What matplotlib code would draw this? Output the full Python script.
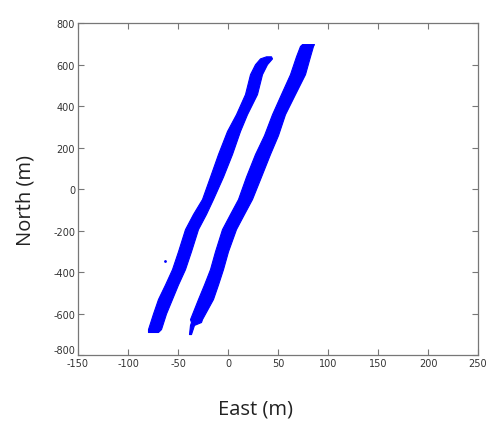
import numpy as np
import matplotlib
matplotlib.use("Agg")
import matplotlib.pyplot as plt

plt.rcParams['axes.unicode_minus'] = False

# left track: north (m), east edges (m)
track1_north = [-689, -675, -600, -530, -460, -386, -300, -193, -120, -48,
                60, 169, 280, 361, 458, 554, 602, 630, 640]
track1_west = [-80, -80, -75, -70, -63, -56, -50, -43, -35, -26,
               -18, -10, -1, 8, 17, 22, 27, 32, 38]
track1_east = [-70, -67, -62, -56, -50, -43, -37, -30, -22, -15,
               -5, 4, 12, 19, 29, 34, 39, 44, 43]

# right track
track2_north = [-699, -655, -641, -627, -530, -460, -386, -300, -193, -120,
                -48, 60, 169, 260, 361, 458, 554, 640, 690, 699]
track2_west = [-39, -38, -37, -38, -30, -24, -18, -13, -6, 2,
               10, 18, 27, 36, 44, 53, 62, 68, 72, 74]
track2_east = [-37, -34, -27, -26, -15, -10, -5, 0, 8, 16,
               24, 33, 42, 50, 57, 67, 77, 82, 85, 86]

# stray point
stray_east = [-63]
stray_north = [-347]

xticks = [-150, -100, -50, 0, 50, 100, 150, 200, 250]
yticks = [-800, -600, -400, -200, 0, 200, 400, 600, 800]

fig = plt.figure(figsize=(5, 4.31), dpi=100)
ax = fig.add_axes([0.156, 0.174, 0.80, 0.770])

blue = '#0000ff'
ax.fill_betweenx(track1_north, track1_west, track1_east, color=blue, lw=0.8)
ax.fill_betweenx(track2_north, track2_west, track2_east, color=blue, lw=0.8)
ax.plot(stray_east, stray_north, '.', color=blue, ms=2)

ax.set_xlim(-150, 250)
ax.set_ylim(-800, 800)
ax.set_xticks(xticks)
ax.set_yticks(yticks)
ax.tick_params(direction='in', top=True, right=True, length=4, width=0.8,
               color='#777777', labelsize=7, labelcolor='#333333', pad=2)
for s in ax.spines.values():
    s.set_color('#777777')
    s.set_linewidth(0.9)

# bottom y label sits a bit higher, like the original
ax.get_yticklabels()[0].set_va('bottom')

ax.set_xlabel('East (m)', fontsize=14.5, family='Open Sans', color='#222222')
ax.set_ylabel('North (m)', fontsize=14.5, family='Open Sans', color='#222222')
ax.xaxis.set_label_coords(0.445, -0.13)
ax.yaxis.set_label_coords(-0.107, 0.47)

fig.savefig('out.png', dpi=100)
